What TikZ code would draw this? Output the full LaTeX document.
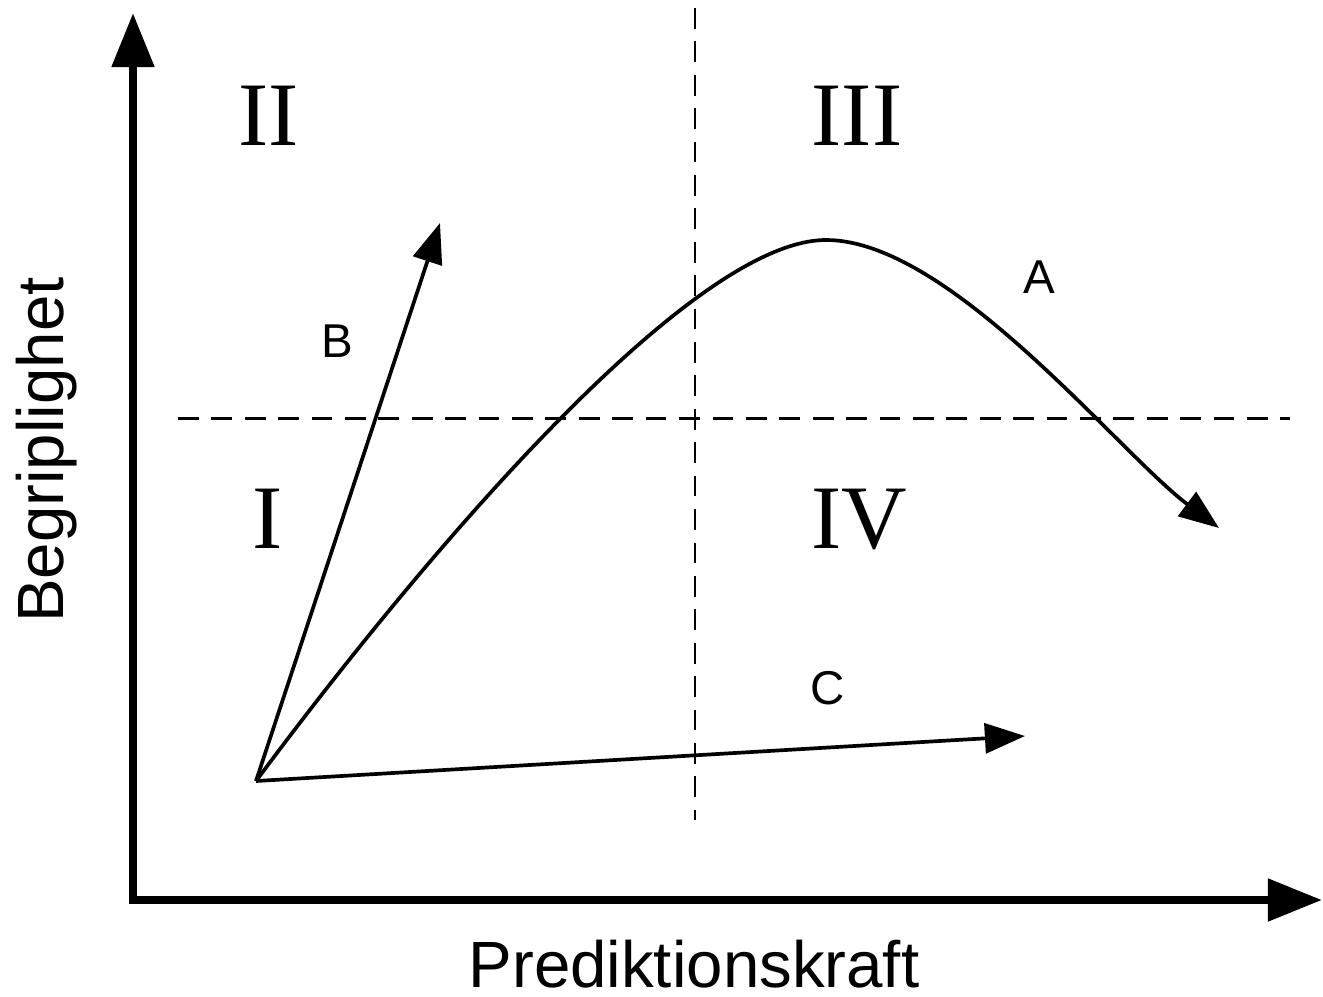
\documentclass[tikz,border=0pt]{standalone}
\usepackage{fontspec}
\setmainfont{Liberation Serif}
\newfontfamily\axisfont{Liberation Sans}
\usetikzlibrary{arrows.meta, positioning}

\begin{document}
\begin{tikzpicture}[x=0.01cm, y=-0.01cm,
  axis/.style={line width=2.3pt, line join=miter,
    {Triangle[length=15.4pt, width=11.7pt]}-{Triangle[length=15.4pt, width=11.7pt]}},
  route/.style={line width=1.05pt, -{Triangle[length=11.4pt, width=8.5pt]}},
  split/.style={line width=0.85pt, dash pattern=on 5.9pt off 3.6pt},
  quadrant/.style={font=\fontsize{25.8}{30}\selectfont, anchor=base},
  tag/.style={font=\axisfont\fontsize{13.5}{16}\selectfont},
  axislabel/.style={font=\axisfont\fontsize{18.6}{22}\selectfont, anchor=base}]

  \useasboundingbox (0,0) rectangle (1323,996);

  % Axes
  \coordinate (ytip) at (133,13);
  \coordinate (origo) at (133,900);
  \coordinate (xtip) at (1322,900);
  \draw[axis] (ytip) -- (origo) -- (xtip);
  \node[axislabel] (xlabel) at (694,987) {Prediktionskraft};
  \node[axislabel, rotate=90] (ylabel) at (64,450) {Begriplighet};

  % Quadrant borders
  \coordinate (vtop) at (695,8);
  \coordinate (vbot) at (695,820);
  \coordinate (hleft) at (178,418);
  \coordinate (hright) at (1290,418);
  \draw[split] (vtop) -- (vbot);
  \draw[split] (hleft) -- (hright);

  % Quadrant numbers
  \node[quadrant] (q1) at (268,548) {I};
  \node[quadrant] (q2) at (269,145) {II};
  \node[quadrant] (q3) at (857,145) {III};
  \node[quadrant] (q4) at (859,548) {IV};

  % Paths A, B and C
  \coordinate (start) at (256,781);
  \coordinate (peak) at (826,240);
  \coordinate (tipA) at (1219,528);
  \coordinate (tipB) at (440,223);
  \coordinate (tipC) at (1025,736);
  \draw[route] (start) .. controls (420,560) and (690,240) .. (peak)
    .. controls (950,240) and (1119,453) .. (tipA);
  \draw[route] (start) -- (tipB);
  \draw[route] (start) -- (tipC);
  \node[tag] (labA) at (1039,277) {A};
  \node[tag] (labB) at (337,341) {B};
  \node[tag] (labC) at (828,688) {C};
\end{tikzpicture}
\end{document}
